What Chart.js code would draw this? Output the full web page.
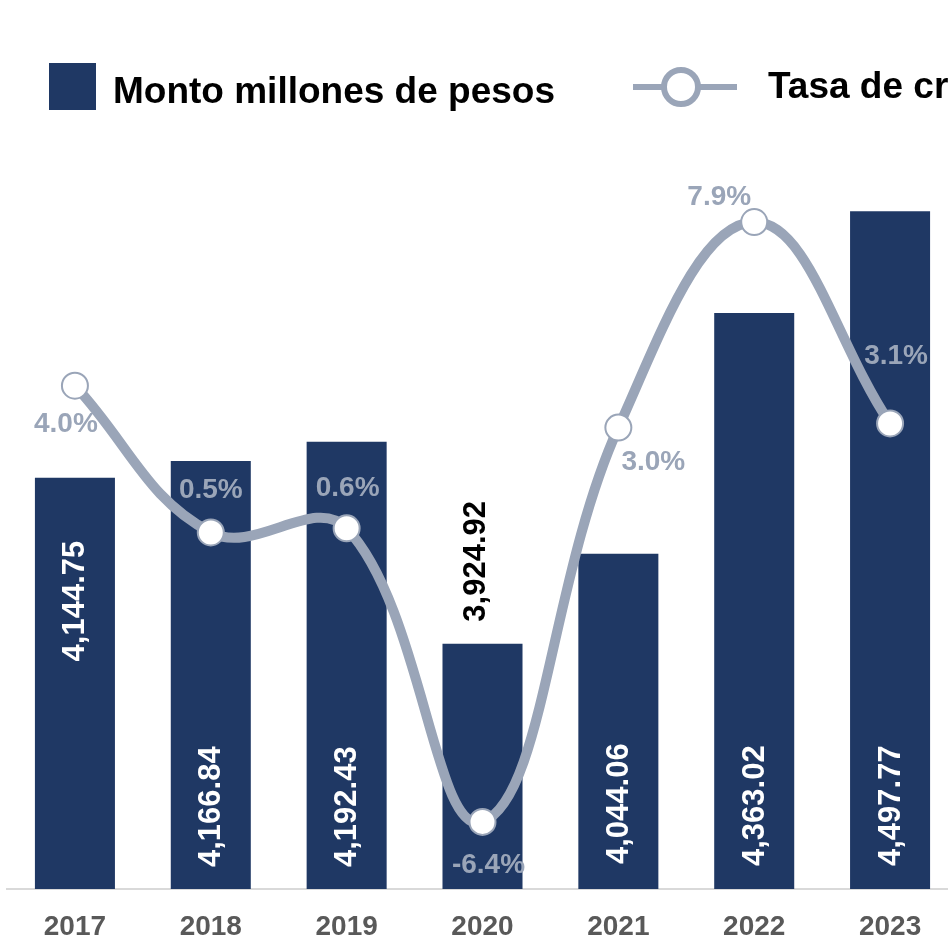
<!DOCTYPE html>
<html>
<head>
<meta charset="utf-8">
<script src="https://cdn.jsdelivr.net/npm/chart.js@4"></script>
<style>
  html, body { margin: 0; padding: 0; background: #ffffff; overflow: hidden; width: 948px; height: 940px; }
  #wrap { position: absolute; left: -8px; top: 0; width: 1000px; height: 940px; }
</style>
</head>
<body>
<div id="wrap"><canvas id="c" width="1000" height="940"></canvas></div>
<script>
// ---- data ----
const years = ['2017', '2018', '2019', '2020', '2021', '2022', '2023'];
const monto = [4144.75, 4166.84, 4192.43, 3924.92, 4044.06, 4363.02, 4497.77];
const tasa = [4.0, 0.5, 0.6, -6.4, 3.0, 7.9, 3.1];
const seriesNames = ['Monto millones de pesos', 'Tasa de crecimiento'];

// ---- styles ----
const BAR_COLOR = '#1F3864';
const LINE_COLOR = '#9AA5B8';
const FONT = '"Liberation Sans", Arial, sans-serif';
const SHIFT = 8; // canvas is shifted left by this many px
// bar label placement: anchor + pixel offset
const barLabelStyle = [
  { anchor: 'top', off: 63, color: '#FFFFFF' },
  { anchor: 'base', off: 22, color: '#FFFFFF' },
  { anchor: 'base', off: 22, color: '#FFFFFF' },
  { anchor: 'outside', off: 22, color: '#000000', dx: -7 },
  { anchor: 'base', off: 25, color: '#FFFFFF' },
  { anchor: 'base', off: 23, color: '#FFFFFF' },
  { anchor: 'base', off: 23, color: '#FFFFFF' }
];
// percentage label offsets (center relative to point)
const pctLabelOffset = [[-9, 39], [0, -42], [1, -40], [6, 43], [35, 35], [-35, -25], [6, -67]];

const labelsPlugin = {
  id: 'customLabels',
  afterDatasetsDraw(chart) {
    const ctx = chart.ctx;
    const barMeta = chart.getDatasetMeta(1);
    const lineMeta = chart.getDatasetMeta(0);
    const bottom = chart.chartArea.bottom;
    ctx.save();
    ctx.font = 'bold 31px ' + FONT;
    ctx.textBaseline = 'middle';
    barMeta.data.forEach((bar, i) => {
      const st = barLabelStyle[i];
      const txt = monto[i].toLocaleString('en-US', { minimumFractionDigits: 2, maximumFractionDigits: 2 });
      let y, align;
      if (st.anchor === 'base') { y = bottom - st.off; align = 'left'; }
      else if (st.anchor === 'outside') { y = bar.y - st.off; align = 'left'; }
      else { y = bar.y + st.off; align = 'right'; }
      ctx.save();
      ctx.translate(bar.x + (st.dx || 0), y);
      ctx.rotate(-Math.PI / 2);
      ctx.textAlign = align;
      ctx.fillStyle = st.color;
      ctx.fillText(txt, 0, 1);
      ctx.restore();
    });
    ctx.font = 'bold 28px ' + FONT;
    ctx.textAlign = 'center';
    ctx.textBaseline = 'middle';
    ctx.fillStyle = LINE_COLOR;
    lineMeta.data.forEach((pt, i) => {
      const o = pctLabelOffset[i];
      ctx.fillText(tasa[i].toFixed(1) + '%', pt.x + o[0], pt.y + o[1]);
    });
    ctx.restore();
  }
};

const legendPlugin = {
  id: 'customLegend',
  afterDraw(chart) {
    const ctx = chart.ctx;
    const ds = chart.data.datasets;
    ctx.save();
    ctx.translate(SHIFT, 0);
    ctx.font = 'bold 37px ' + FONT;
    ctx.textBaseline = 'alphabetic';
    ctx.textAlign = 'left';
    ctx.fillStyle = ds[1].backgroundColor;
    ctx.fillRect(49, 63, 47, 47);
    ctx.fillStyle = '#000000';
    ctx.fillText(ds[1].label, 113, 103);
    ctx.strokeStyle = ds[0].borderColor;
    ctx.lineWidth = 6;
    ctx.beginPath();
    ctx.moveTo(633, 87);
    ctx.lineTo(737, 87);
    ctx.stroke();
    ctx.beginPath();
    ctx.arc(681, 87, 17, 0, Math.PI * 2);
    ctx.fillStyle = '#FFFFFF';
    ctx.fill();
    ctx.stroke();
    ctx.fillStyle = '#000000';
    ctx.fillText(ds[0].label, 768, 98);
    ctx.restore();
  }
};

new Chart(document.getElementById('c'), {
  data: {
    labels: years,
    datasets: [
      {
        type: 'line',
        label: seriesNames[1],
        data: tasa,
        yAxisID: 'y2',
        order: 0,
        borderColor: LINE_COLOR,
        borderWidth: 10,
        tension: 0.4,
        pointRadius: 13,
        pointBorderWidth: 2,
        pointBackgroundColor: '#FFFFFF',
        pointBorderColor: LINE_COLOR,
        clip: false
      },
      {
        type: 'bar',
        label: seriesNames[0],
        data: monto,
        yAxisID: 'y',
        order: 1,
        backgroundColor: BAR_COLOR,
        barPercentage: 0.589,
        categoryPercentage: 1.0
      }
    ]
  },
  options: {
    responsive: false,
    animation: false,
    events: [],
    layout: { padding: { left: 15, right: 34, top: 134, bottom: 0 } },
    plugins: { legend: { display: false }, tooltip: { enabled: false }, title: { display: false } },
    scales: {
      x: {
        grid: { display: false, drawTicks: false },
        border: { display: true, color: '#D9D9D9', width: 2 },
        ticks: { color: '#595959', font: { family: FONT, size: 28, weight: 'bold' }, padding: 21 },
        afterFit(s) { s.height = 51; s.paddingLeft = 0; s.paddingRight = 0; }
      },
      y: { display: false, min: 3600, max: 4600 },
      y2: { display: false, min: -8, max: 10 }
    }
  },
  plugins: [labelsPlugin, legendPlugin]
});
</script>
</body>
</html>
